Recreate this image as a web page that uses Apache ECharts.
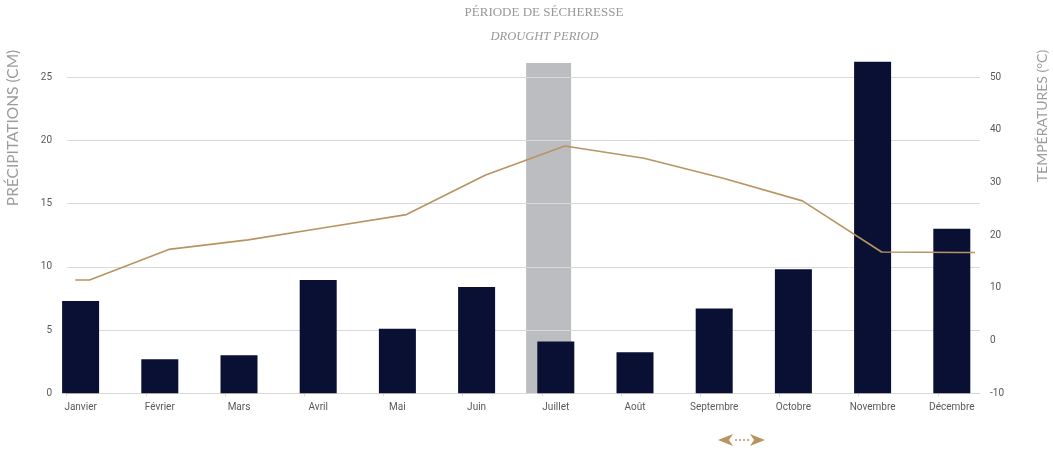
<!DOCTYPE html>
<html>
<head>
<meta charset="utf-8">
<script src="https://cdn.jsdelivr.net/npm/echarts@6/dist/echarts.min.js"></script>
<style>
html,body{margin:0;padding:0;background:#fff;}
#chart{width:1053px;height:451px;}
</style>
</head>
<body>
<div id="chart"></div>
<script>
// ---- data ----
const months = ['Janvier','Février','Mars','Avril','Mai','Juin','Juillet','Août','Septembre','Octobre','Novembre','Décembre'];
const precipitation = [7.3, 2.7, 3.0, 8.95, 5.1, 8.4, 4.1, 3.25, 6.7, 9.8, 26.2, 13.0];
const temperature = [11.5, 17.3, 19.1, 21.5, 23.9, 31.4, 36.9, 34.6, 30.8, 26.5, 16.8, 16.7];
const droughtMonth = 'Juillet';
const droughtHeight = 26.1;
const precipTicks = {min: 0, max: 25, interval: 5};
const tempTicks = {min: -10, max: 50, interval: 10};
const titleFr = 'PÉRIODE DE SÉCHERESSE';
const titleEn = 'DROUGHT PERIOD';
const leftName = 'PRÉCIPITATIONS (CM)';
const rightName = 'TEMPÉRATURES (°C)';
const lineOverhang = 0.18;

// ---- styles ----
const NAVY = '#091034';
const GOLD = '#b89461';
const GREYBAR = '#bcbdc1';
const GRIDC = '#d9d9d9';
const LABEL = '#595959';
const labelFont = "'Liberation Sans Narrow', 'Roboto', sans-serif";

const gTop = 77, gBottom = 57.7;
const barLeft = 41, bandW = 79.2;
const barRight = 1053 - barLeft - bandW * months.length;
const tickLeft = 66.7 - bandW / 2;

const chart = echarts.init(document.getElementById('chart'));

const lineData = [[-lineOverhang, temperature[0]]]
  .concat(temperature.map((t, i) => [i, t]))
  .concat([[months.length - 1 + lineOverhang, temperature[temperature.length - 1]]]);

const option = {
  animation: false,
  grid: [
    {left: 67, right: 73, top: gTop, bottom: gBottom},
    {left: barLeft, right: barRight, top: gTop, bottom: gBottom},
    {left: barLeft - 7.2, right: barRight + 7.2, top: gTop, bottom: gBottom},
    {left: barLeft + 9, right: barRight - 9, top: gTop, bottom: gBottom},
    {left: tickLeft, right: 1053 - tickLeft - bandW * months.length, top: gTop, bottom: gBottom}
  ],
  xAxis: [
    {gridIndex: 0, type: 'category', data: months, axisLine: {show: true, lineStyle: {color: GRIDC}}, axisTick: {show: false}, axisLabel: {show: false}},
    {gridIndex: 1, type: 'category', data: months, axisLine: {show: false}, axisTick: {show: false},
      axisLabel: {color: LABEL, fontSize: 10, fontFamily: labelFont, margin: 9, interval: 0}},
    {gridIndex: 2, type: 'category', data: months, show: false},
    {gridIndex: 3, type: 'value', min: -0.5, max: months.length - 0.5, show: false},
    {gridIndex: 4, type: 'category', data: months, axisLine: {show: false}, axisLabel: {show: false},
      axisTick: {show: true, alignWithLabel: true, length: 3, lineStyle: {color: GRIDC}}}
  ],
  yAxis: [
    {gridIndex: 0, type: 'value', position: 'left', min: precipTicks.min, max: precipTicks.max, interval: precipTicks.interval,
      axisLine: {show: false}, axisTick: {show: false},
      axisLabel: {color: LABEL, fontSize: 10, fontFamily: labelFont, margin: 15},
      splitLine: {show: true, lineStyle: {color: GRIDC, width: 1}}},
    {gridIndex: 0, type: 'value', position: 'right', min: tempTicks.min, max: tempTicks.max, interval: tempTicks.interval,
      axisLine: {show: false}, axisTick: {show: false},
      axisLabel: {color: LABEL, fontSize: 10, fontFamily: labelFont, margin: 10},
      splitLine: {show: false}},
    {gridIndex: 1, type: 'value', min: precipTicks.min, max: precipTicks.max, show: false},
    {gridIndex: 2, type: 'value', min: precipTicks.min, max: precipTicks.max, show: false},
    {gridIndex: 3, type: 'value', min: tempTicks.min, max: tempTicks.max, show: false},
    {gridIndex: 4, type: 'value', min: precipTicks.min, max: precipTicks.max, show: false}
  ],
  series: [
    {type: 'bar', name: 'drought', xAxisIndex: 2, yAxisIndex: 3, z: -1, clip: false, barWidth: 45,
      itemStyle: {color: GREYBAR},
      data: months.map(m => m === droughtMonth ? droughtHeight : '-')},
    {type: 'bar', name: 'Précipitations', xAxisIndex: 1, yAxisIndex: 2, z: 3, clip: false, barWidth: 37,
      itemStyle: {color: NAVY},
      data: precipitation},
    {type: 'line', name: 'Températures', xAxisIndex: 3, yAxisIndex: 4, z: 4, clip: false,
      symbol: 'none', lineStyle: {color: GOLD, width: 1.6},
      data: lineData}
  ],
  graphic: [
    {type: 'text', x: 544, y: 13, style: {text: titleFr, fill: '#9a9794', font: "13px 'Liberation Serif', 'DejaVu Serif', serif", textAlign: 'center', textVerticalAlign: 'middle'}},
    {type: 'text', x: 544.5, y: 37, style: {text: titleEn, fill: '#9a9794', font: "italic 12.5px 'Liberation Serif', 'DejaVu Serif', serif", textAlign: 'center', textVerticalAlign: 'middle'}},
    {type: 'text', x: 13, y: 128, rotation: Math.PI / 2, style: {text: leftName, fill: '#9c9c9c', font: "400 15.5px 'Lato', 'Open Sans', sans-serif", textAlign: 'center', textVerticalAlign: 'middle'}},
    {type: 'text', x: 1042, y: 116, rotation: Math.PI / 2, style: {text: rightName, fill: '#9c9c9c', font: "400 14px 'Lato', 'Open Sans', sans-serif", textAlign: 'center', textVerticalAlign: 'middle'}},
    {type: 'group', x: 742, y: 440, children: [
      {type: 'polygon', shape: {points: [[-24, 0], [-9, -6], [-13, 0], [-9, 6]]}, style: {fill: GOLD}},
      {type: 'polygon', shape: {points: [[23, 0], [8, -6], [12, 0], [8, 6]]}, style: {fill: GOLD}},
      {type: 'circle', shape: {cx: -6, cy: 0, r: 1}, style: {fill: GOLD}},
      {type: 'circle', shape: {cx: -2, cy: 0, r: 1}, style: {fill: GOLD}},
      {type: 'circle', shape: {cx: 2, cy: 0, r: 1}, style: {fill: GOLD}},
      {type: 'circle', shape: {cx: 6, cy: 0, r: 1}, style: {fill: GOLD}}
    ]}
  ]
};
chart.setOption(option);
</script>
</body>
</html>
